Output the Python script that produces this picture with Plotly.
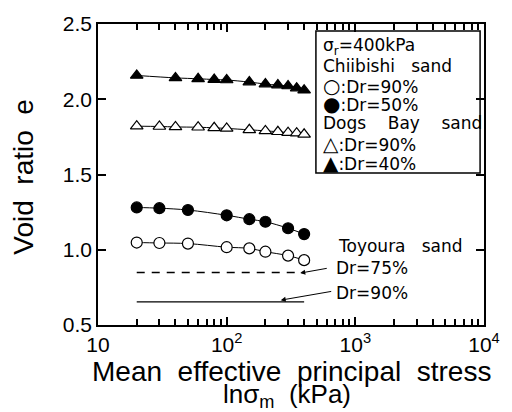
import plotly.graph_objects as go

# Dogs Bay sand, Dr=40% (filled triangles)
db40_p = [20, 40, 60, 80, 100, 150, 200, 250, 300, 350, 400]
db40_e = [2.158, 2.142, 2.136, 2.131, 2.128, 2.114, 2.101, 2.094, 2.088, 2.074, 2.060]
# Dogs Bay sand, Dr=90% (open triangles)
db90_p = [20, 30, 40, 60, 80, 100, 150, 200, 250, 300, 350, 400]
db90_e = [1.821, 1.819, 1.816, 1.814, 1.810, 1.806, 1.797, 1.790, 1.784, 1.778, 1.775, 1.767]
# Chiibishi sand, Dr=50% (filled circles)
cb50_p = [20, 30, 50, 100, 150, 200, 300, 400]
cb50_e = [1.281, 1.276, 1.264, 1.229, 1.203, 1.186, 1.143, 1.104]
# Chiibishi sand, Dr=90% (open circles)
cb90_p = [20, 30, 50, 100, 150, 200, 300, 400]
cb90_e = [1.048, 1.045, 1.041, 1.017, 1.009, 0.987, 0.961, 0.931]
# Toyoura sand reference lines
toy_p = [20, 400]
toy75_e = [0.849, 0.849]
toy90_e = [0.654, 0.654]

# axis tick labels
x_tickvals = [10, 100, 1000, 10000]
x_ticktext = ["10", "10<sup>2</sup>", "10<sup>3</sup>", "10<sup>4</sup>"]
y_tickvals = [0.5, 1.0, 1.5, 2.0, 2.5]
y_ticktext = ["0.5", "1.0", "1.5", "2.0", "2.5"]

FONT = "Liberation Sans, Arial, sans-serif"
LFONT = "DejaVu Sans, Liberation Sans, sans-serif"
SP = "\u00a0"
fig = go.Figure()

def series(p, e, symbol, fill, size):
    fig.add_trace(go.Scatter(
        x=p, y=e, mode="lines+markers", line=dict(color="black", width=1, shape="spline"),
        marker=dict(symbol=symbol, size=size, color="black" if fill else "white",
                    line=dict(color="black", width=1.2)),
        showlegend=False))

series(db40_p, db40_e, "triangle-up", True, 11)
series(db90_p, db90_e, "triangle-up", False, 11)
series(cb50_p, cb50_e, "circle", True, 11)
series(cb90_p, cb90_e, "circle", False, 11)
fig.add_trace(go.Scatter(x=toy_p, y=toy75_e, mode="lines",
                         line=dict(color="black", width=1.3, dash="8px,7px"), showlegend=False))
fig.add_trace(go.Scatter(x=toy_p, y=toy90_e, mode="lines",
                         line=dict(color="black", width=1.3), showlegend=False))

ann = []
def txt(x, y, s, size=16, xanchor="left", family=LFONT):
    ann.append(dict(x=x, y=y, text=s, xref="paper", yref="paper", showarrow=False,
                    xanchor=xanchor, yanchor="middle", font=dict(family=family, size=size, color="black")))

# pixel helpers: plot area x 98..493, y 22..325
def px(x):
    return (x - 98) / (493 - 98)
def py(y):
    return (325 - y) / (325 - 22)

SYM = "<span style='font-size:20px'>%s</span>"
legend_lines = [
    (45, "σ<sub>r</sub>=400kPa"),
    (64, "Chiibishi" + SP * 3 + "sand"),
    (84, (SYM % "○") + ":Dr=90%"),
    (103, (SYM % "●") + ":Dr=50%"),
    (122, "Dogs" + SP * 4 + "Bay" + SP * 4 + "sand"),
    (143, (SYM % "△") + ":Dr=90%"),
    (162, (SYM % "▲") + ":Dr=40%"),
]
for y, s in legend_lines:
    txt(px(326), py(y), s, size=17)

txt(px(342), py(245), "Toyoura" + SP * 3 + "sand", size=17)
txt(px(340), py(268), "Dr=75%", size=17)
txt(px(340), py(293), "Dr=90%", size=17)

# arrows
ann.append(dict(x=2.572, y=0.845, xref="x", yref="y", ax=28, ay=-5, showarrow=True,
                arrowhead=2, arrowsize=1, arrowwidth=1, arrowcolor="black", text=""))
ann.append(dict(x=2.42, y=0.665, xref="x", yref="y", ax=52, ay=-9, showarrow=True,
                arrowhead=2, arrowsize=1, arrowwidth=1, arrowcolor="black", text=""))

# axis titles
txt(0.5, py(372), "Mean  effective  principal  stress", size=28, xanchor="center", family=FONT)
txt(px(291), py(396), "lnσ<sub>m</sub>" + SP * 2 + "(kPa)", size=26, xanchor="center", family=FONT)
ann.append(dict(x=px(22), y=py(176), xref="paper", yref="paper", text="Void  ratio  e", textangle=-90,
                showarrow=False, xanchor="center", yanchor="middle",
                font=dict(family=FONT, size=28, color="black")))

fig.update_layout(
    width=512, height=412, margin=dict(l=98, r=19, t=22, b=87),
    paper_bgcolor="white", plot_bgcolor="white",
    annotations=ann,
    shapes=[dict(type="rect", xref="paper", yref="paper", x0=px(321), x1=px(489),
                 y0=py(172), y1=py(29), line=dict(color="black", width=1.5))],
    xaxis=dict(type="log", range=[1, 4], tickmode="array",
               tickvals=x_tickvals, ticktext=x_ticktext,
               ticks="inside", ticklen=8, tickwidth=2, tickcolor="black",
               showline=True, linecolor="black", linewidth=1.5,
               mirror="ticks", showgrid=False,
               tickfont=dict(size=21, family=FONT, color="black"),
               minor=dict(ticks="inside", ticklen=6, tickwidth=1.5, tickcolor="black",
                          dtick="D1", showgrid=False)),
    yaxis=dict(range=[0.5, 2.5], tickmode="array", tickvals=y_tickvals, ticktext=y_ticktext,
               ticks="inside", ticklen=8, tickwidth=2, tickcolor="black",
               showline=True, linecolor="black", linewidth=1.5,
               mirror="ticks", showgrid=False,
               tickfont=dict(size=21, family=FONT, color="black")),
)

fig.write_html("out.html")
